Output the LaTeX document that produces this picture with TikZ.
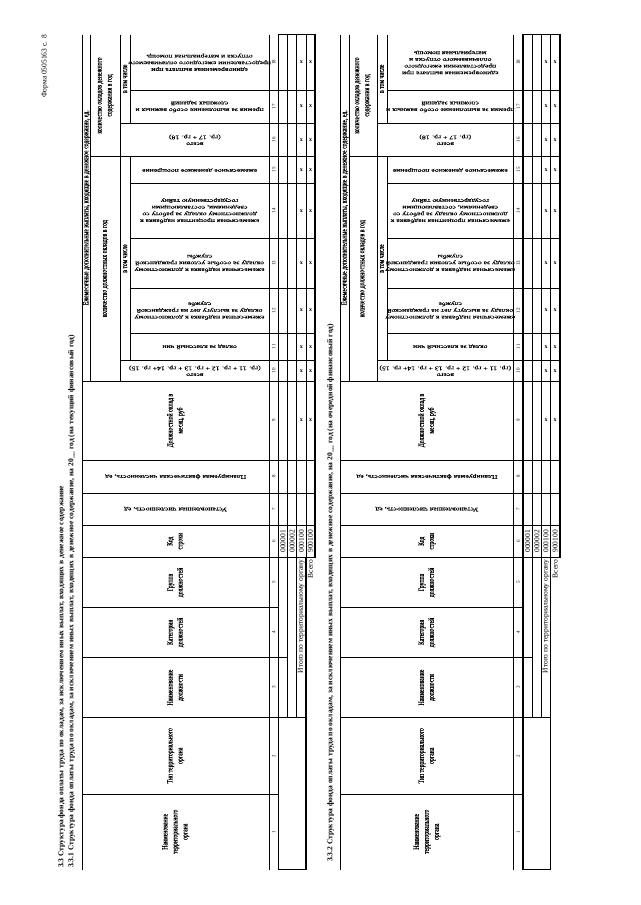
\documentclass[tikz,border=0pt]{standalone}
\usepackage{fontspec}
\setmainfont{Liberation Serif}
\newfontfamily\narrowfont[FakeStretch=0.72,FakeBold=0.6]{Liberation Serif}
\newfontfamily\widefont[FakeStretch=1.4,FakeBold=0.6]{Liberation Serif}

\tikzset{
  thinline/.style={line width=.7pt},
  boxline/.style={line width=1.4pt},
  hdr/.style={rotate=90,align=center,inner sep=0pt,font=\narrowfont\fontsize{8}{10}\selectfont},
  vhdr/.style={rotate=180,align=center,inner sep=0pt,font=\widefont\fontsize{5.5}{6.7}\selectfont},
  colnum/.style={rotate=90,inner sep=0pt,font=\fontsize{5}{5}\selectfont},
  rowcode/.style={rotate=90,inner sep=0pt,font=\fontsize{7.5}{7.5}\selectfont},
  cross/.style={inner sep=0pt,font=\bfseries\fontsize{6}{6}\selectfont},
  heading/.style={rotate=90,anchor=west,inner sep=0pt,font=\bfseries\fontsize{7.5}{9}\selectfont}
}

% #1 top, #2 #3 #4 header bands, #5 header bottom, #6 number row bottom, #7 prefix, #8 text of column 18
\newcommand{\okladtable}[8]{%
  \pgfmathsetmacro\rowA{#6+9.2}
  \pgfmathsetmacro\rowB{#6+18.4}
  \pgfmathsetmacro\rowC{#6+27.6}
  \pgfmathsetmacro\rowD{#6+36.8}
  \pgfmathsetmacro\midA{#6+4.6}
  \pgfmathsetmacro\midB{#6+13.8}
  \pgfmathsetmacro\midC{#6+23}
  \pgfmathsetmacro\midD{#6+32.2}
  \pgfmathsetmacro\midTH{(#1+#5)/2}
  \pgfmathsetmacro\midTE{(#1+#2)/2}
  \pgfmathsetmacro\midEK{(#2+#3)/2}
  \pgfmathsetmacro\midKV{(#3+#4)/2}
  \pgfmathsetmacro\midKH{(#3+#5)/2}
  \pgfmathsetmacro\midVH{(#4+#5)/2}
  \pgfmathsetmacro\midHN{(#5+#6)/2}
  % header rules
  \draw [thinline] (#1,34.5) -- (#1,869.5);
  \draw [thinline] (#2,34.5) -- (#2,381);
  \draw [thinline] (#3,34.5) -- (#3,381);
  \draw [thinline] (#4,34.5) -- (#4,123) (#4,156.5) -- (#4,360.5);
  \draw [thinline] (#5,34.5) -- (#5,869.5);
  \foreach \cy in {381,460,493,525,557.5,607.5,657.5,717.5,794}
    \draw [thinline] (#1,\cy) -- (#6,\cy);
  \draw [thinline] (#2,156.5) -- (#6,156.5);
  \foreach \cy in {123,360.5} \draw [thinline] (#3,\cy) -- (#6,\cy);
  \foreach \cy in {90,183.3,238,288,333} \draw [thinline] (#4,\cy) -- (#6,\cy);
  % data rules
  \foreach \cy in {90,123,156.5,183.3,238,288,333,360.5,381,460,493,525}
    \draw [thinline] (#6,\cy) -- (\rowD,\cy);
  \draw [thinline] (\rowA,34.5) -- (\rowA,717.5) (\rowB,34.5) -- (\rowB,717.5) (\rowC,34.5) -- (\rowC,557.5);
  \draw [thinline] (#6,657.5) -- (\rowA,657.5) (#6,717.5) -- (\rowC,717.5);
  \draw [boxline] (#6,34.5) rectangle (\rowD,557.5);
  \draw [boxline] (#6,557.5) -- (#6,869.5) -- (\rowC,869.5) -- (\rowC,557.5);
  % header texts
  \node [hdr] (#7-c1) at (\midTH,831.75) {Наименование\\территориального\\органа};
  \node [hdr] (#7-c2) at (\midTH,755.75) {Тип территориального\\органа};
  \node [hdr] (#7-c3) at (\midTH,687.5) {Наименование\\должности};
  \node [hdr] (#7-c4) at (\midTH,632.5) {Категория\\должностей};
  \node [hdr] (#7-c5) at (\midTH,582.5) {Группа\\должностей};
  \node [hdr] (#7-c6) at (\midTH,541.25) {Код\\строки};
  \node [vhdr] (#7-c7) at (\midTH,509) {Установленная численность, ед};
  \node [vhdr] (#7-c8) at (\midTH,476.5) {Планируемая фактическая численность, ед};
  \node [hdr] (#7-c9) at (\midTH,420.5) {Должностной оклад в\\месяц, руб};
  \node [hdr] (#7-g1) at (\midTE,207.75) {Ежемесячные дополнительные выплаты, входящие в денежное содержание, ед.};
  \node [hdr] (#7-g2) at (\midEK,268.75) {количество должностных окладов в год};
  \node [hdr] (#7-g3) at (\midEK,95.5) {количество окладов денежного\\содержания в год};
  \node [hdr] (#7-s1) at (\midKV,258.5) {в том числе};
  \node [hdr] (#7-s2) at (\midKV,78.75) {в том числе};
  \node [vhdr] (#7-c10) at (\midKH,370.75) {всего\\(гр. 11 + гр. 12 + гр. 13 + гр. 14+ гр. 15)};
  \node [vhdr] (#7-c11) at (\midVH,346.75) {оклад за классный чин};
  \node [vhdr] (#7-c12) at (\midVH,310.5) {ежемесячная надбавка к должностному\\окладу за выслугу лет на гражданской\\службе};
  \node [vhdr] (#7-c13) at (\midVH,263) {ежемесячная надбавка к должностному\\окладу за особые условия гражданской\\службы};
  \node [vhdr] (#7-c14) at (\midVH,210.65) {ежемесячная процентная надбавка к\\должностному окладу за работу со\\сведениями, составляющими\\государственную тайну};
  \node [vhdr] (#7-c15) at (\midVH,169.9) {ежемесячное денежное поощрение};
  \node [vhdr] (#7-c16) at (\midKH,139.75) {всего\\(гр. 17 + гр. 18)};
  \node [vhdr] (#7-c17) at (\midVH,106.5) {премия за выполнение особо важных и\\сложных заданий};
  \node [vhdr] (#7-c18) at (\midVH,62.25) {#8};
  % column numbers
  \foreach \colno/\cpos in {1/831.75,2/755.75,3/687.5,4/632.5,5/582.5,6/541.25,7/509,8/476.5,9/420.5,
      10/370.75,11/346.75,12/310.5,13/263,14/210.65,15/169.9,16/139.75,17/106.5,18/62.25}
    \node [colnum] (#7-n\colno) at (\midHN,\cpos) {\colno};
  % rows
  \node [rowcode] (#7-r1) at (\midA,541.25) {000001};
  \node [rowcode] (#7-r2) at (\midB,541.25) {000002};
  \node [rowcode] (#7-r3) at (\midC,541.25) {000100};
  \node [rowcode] (#7-r4) at (\midD,541.25) {900100};
  \node [rowcode,anchor=east] (#7-itogo) at (\midC,559.5) {Итого по территориальному органу};
  \node [rowcode,anchor=east] (#7-vsego) at (\midD,559.5) {Всего};
  \foreach \cpos in {420.5,370.75,346.75,310.5,263,210.65,169.9,139.75,106.5,62.25} {
    \node [cross] at (\midC,\cpos) {x};
    \node [cross] at (\midD,\cpos) {x};
  }
}

\begin{document}
\begin{tikzpicture}[x=1pt,y=-1pt]
  \useasboundingbox [fill=white] (0,0) rectangle (640,905);

  \node [rotate=90,anchor=east,inner sep=0pt,font=\fontsize{7.5}{9}\selectfont] (form) at (45,35) {Форма 0505163 с. 8};
  \node [heading] (t33) at (61.7,868) {3.3 Структура фонда оплаты труда по окладам, за исключением иных выплат, входящих в денежное содержание};
  \node [heading] (t331) at (71.7,868) {3.3.1 Структура фонда оплаты труда по окладам, за исключением иных выплат, входящих в денежное содержание, на 20\_\_ год (на текущий финансовый год)};
  \okladtable{82.2}{90.8}{120.5}{130}{269.2}{278.3}{a}{единовременная выплата при\\предоставлении ежегодного оплачиваемого\\отпуска и материальная помощь}

  \node [heading] (t332) at (330.5,862) {3.3.2 Структура фонда оплаты труда по окладам, за исключением иных выплат, входящих в денежное содержание, на 20\_\_ год (на очередной финансовый год)};
  \okladtable{340.5}{349.3}{377}{387}{513.5}{523}{b}{единовременная выплата при\\предоставлении ежегодного\\оплачиваемого отпуска и\\материальная помощь}
\end{tikzpicture}
\end{document}
